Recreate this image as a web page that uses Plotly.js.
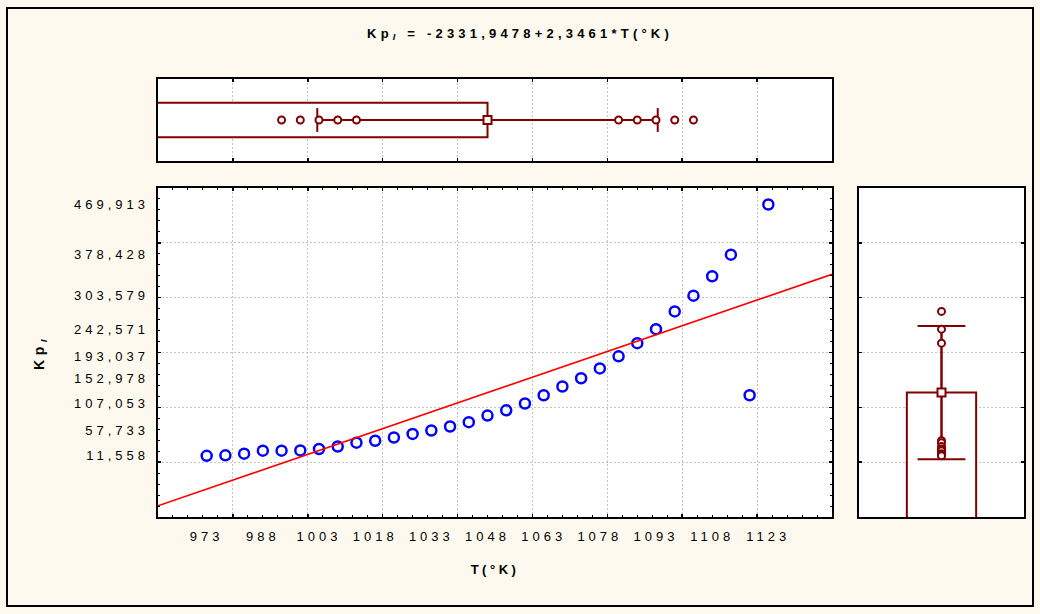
<!DOCTYPE html>
<html>
<head>
<meta charset="utf-8">
<script src="https://cdn.plot.ly/plotly-3.0.1.min.js"></script>
<style>
  html, body { margin: 0; padding: 0; background: #FEF9EE; }
  #chart { width: 1040px; height: 614px; }
  g[class$="tick"] text { letter-spacing: 4px; }
  .gtitle { letter-spacing: 4.2px; }
  .g-x4title text { letter-spacing: 3.5px; }
  .g-y2title text { letter-spacing: 4.5px; }
</style>
</head>
<body>
<div id="chart"></div>
<script>
// ---- data ----
const temperatureK = [973, 978, 983, 988, 993, 998, 1003, 1008, 1013, 1018, 1023, 1028, 1033, 1038, 1043,
  1048, 1053, 1058, 1063, 1068, 1073, 1078, 1083, 1088, 1093, 1098, 1103, 1108, 1113, 1118, 1123];
const kpValues = [11.558, 12.5, 15.5, 21, 21, 21.5, 24, 28.5, 35.5, 39, 45, 51.5, 57.733, 65, 73,
  85, 94.5, 107.053, 122, 138, 152.978, 171, 193.037, 217, 242.571, 275, 303.579, 339, 378.428, 122, 469.913];

const xTickVals = [973, 988, 1003, 1018, 1033, 1048, 1063, 1078, 1093, 1108, 1123];
const xTickText = ["973", "988", "1003", "1018", "1033", "1048", "1063", "1078", "1093", "1108", "1123"];
const yTickVals = [11.558, 57.733, 107.053, 152.978, 193.037, 242.571, 303.579, 378.428, 469.913];
const yTickText = ["11,558", "57,733", "107,053", "152,978", "193,037", "242,571", "303,579", "378,428", "469,913"];

const fitIntercept = -2331.9478;
const fitSlope = 2.3461;

// points drawn on the marginal box plots
const tBoxPoints = [993, 998, 1003, 1008, 1013, 1083, 1088, 1093, 1098, 1103];
const kpBoxPoints = [275, 242.571, 217, 39, 35.5, 28.5, 24, 21.5, 21, 21, 15.5, 12.5, 11.558];

// ---- statistics ----
function mean(a) { return a.reduce((s, v) => s + v, 0) / a.length; }
function sd(a) { const m = mean(a); return Math.sqrt(a.reduce((s, v) => s + (v - m) * (v - m), 0) / (a.length - 1)); }
const tMean = mean(temperatureK), tSd = sd(temperatureK);
const kMean = mean(kpValues), kSd = sd(kpValues);

// ---- style ----
const DARKRED = '#800000';
const FONT = 'Liberation Sans, Arial, sans-serif';
const xRange = [960, 1140];
const yRange = [-100, 500];
const CAP = 0.29, BARW = 0.84;
const kBarBase = yRange[0] - 50;   // bar starts below the visible range (clipped like the reference)

// layout geometry (pixels of the 1040x614 canvas)
const mL = 158, mR = 16, mT = 79, mB = 97;
const W = 1040 - mL - mR, H = 614 - mT - mB;
const fx = px => (px - mL) / W;
const fy = py => (614 - mB - py) / H;

const traces = [
  // main scatter
  { type: 'scatter', mode: 'markers', x: temperatureK, y: kpValues, xaxis: 'x', yaxis: 'y',
    marker: { symbol: 'circle-open', size: 10, color: '#0000FF', line: { width: 2.5, color: '#0000FF' } },
    showlegend: false, hoverinfo: 'x+y' },
  // regression line
  { type: 'scatter', mode: 'lines', x: xRange, y: xRange.map(t => fitIntercept + fitSlope * t), xaxis: 'x', yaxis: 'y',
    line: { color: '#FF0000', width: 1.6 }, showlegend: false },

  // top marginal box (T)
  { type: 'bar', orientation: 'h', x: [tMean], y: [0], width: BARW, xaxis: 'x2', yaxis: 'y3',
    marker: { color: '#FFFFFF', line: { color: DARKRED, width: 2 } }, showlegend: false },
  { type: 'scatter', mode: 'lines', x: [tMean - tSd, tMean + tSd], y: [0, 0], xaxis: 'x2', yaxis: 'y3',
    line: { color: DARKRED, width: 2 }, showlegend: false },
  { type: 'scatter', mode: 'lines', x: [tMean - tSd, tMean - tSd, null, tMean + tSd, tMean + tSd], y: [-CAP, CAP, null, -CAP, CAP],
    xaxis: 'x2', yaxis: 'y3', line: { color: DARKRED, width: 2 }, showlegend: false },
  { type: 'scatter', mode: 'markers', x: tBoxPoints, y: tBoxPoints.map(() => 0), xaxis: 'x2', yaxis: 'y3',
    marker: { symbol: 'circle', size: 7, color: '#FFFFFF', line: { color: DARKRED, width: 2 } }, showlegend: false },
  { type: 'scatter', mode: 'markers', x: [tMean], y: [0], xaxis: 'x2', yaxis: 'y3',
    marker: { symbol: 'square', size: 8, color: '#FFFFFF', line: { color: DARKRED, width: 2 } }, showlegend: false },

  // right marginal box (Kp)
  { type: 'bar', x: [0], y: [kMean - kBarBase], base: kBarBase, width: BARW, xaxis: 'x3', yaxis: 'y4',
    marker: { color: '#FFFFFF', line: { color: DARKRED, width: 2 } }, showlegend: false },
  { type: 'scatter', mode: 'lines', x: [0, 0], y: [kMean - kSd, kMean + kSd], xaxis: 'x3', yaxis: 'y4',
    line: { color: DARKRED, width: 2.5 }, showlegend: false },
  { type: 'scatter', mode: 'lines', x: [-CAP, CAP, null, -CAP, CAP], y: [kMean - kSd, kMean - kSd, null, kMean + kSd, kMean + kSd],
    xaxis: 'x3', yaxis: 'y4', line: { color: DARKRED, width: 2 }, showlegend: false },
  { type: 'scatter', mode: 'markers', x: kpBoxPoints.map(() => 0), y: kpBoxPoints, xaxis: 'x3', yaxis: 'y4',
    marker: { symbol: 'circle', size: 7, color: '#FFFFFF', line: { color: DARKRED, width: 2 } }, showlegend: false },
  { type: 'scatter', mode: 'markers', x: [0], y: [kMean], xaxis: 'x3', yaxis: 'y4',
    marker: { symbol: 'square', size: 8, color: '#FFFFFF', line: { color: DARKRED, width: 2 } }, showlegend: false },

  // label-only overlay axes
  { type: 'scatter', mode: 'markers', x: [], y: [], xaxis: 'x4', yaxis: 'y', showlegend: false },
  { type: 'scatter', mode: 'markers', x: [], y: [], xaxis: 'x', yaxis: 'y2', showlegend: false }
];

const gridCommon = { showgrid: true, gridcolor: '#C4C4C4', gridwidth: 1, griddash: '2px,2px', zeroline: false,
  showline: true, linecolor: '#000000', linewidth: 2, mirror: 'ticks', ticks: 'inside', ticklen: 3, tickcolor: '#000000',
  tickwidth: 1.5, showticklabels: false, fixedrange: true };

const mainX = [fx(158), fx(832)], mainY = [fy(517), fy(188)];
const topY = [fy(161), fy(79)], rightX = [fx(859), fx(1024)];

const layout = {
  width: 1040, height: 614,
  margin: { l: mL, r: mR, t: mT, b: mB, pad: 0 },
  paper_bgcolor: '#FEF9EE', plot_bgcolor: '#FFFFFF',
  font: { family: FONT, size: 13, color: '#000000' },
  title: { text: '<b>Kp<sub><i>I</i></sub> = -2331,9478+2,3461*T(°K)</b>', x: 0.5, xref: 'container', xanchor: 'center',
    y: 1 - 33 / 614, yref: 'container', yanchor: 'middle', font: { family: FONT, size: 13, color: '#000000' } },
  showlegend: false,
  bargap: 0,
  xaxis: Object.assign({}, gridCommon, { domain: mainX, anchor: 'y', range: xRange, tick0: 960, dtick: 20,
    minor: { dtick: 4, tick0: 960, ticks: 'inside', ticklen: 2, tickcolor: '#000000', tickwidth: 1, showgrid: false } }),
  yaxis: Object.assign({}, gridCommon, { domain: mainY, anchor: 'x', range: yRange, tick0: 0, dtick: 100,
    minor: { dtick: 20, tick0: 0, ticks: 'inside', ticklen: 2, tickcolor: '#000000', tickwidth: 1, showgrid: false } }),
  xaxis4: { overlaying: 'x', anchor: 'y', side: 'bottom', range: xRange, tickmode: 'array', tickvals: xTickVals, ticktext: xTickText,
    showgrid: false, zeroline: false, showline: false, ticks: '', ticklabelstandoff: 10, fixedrange: true,
    tickfont: { family: FONT, size: 13, color: '#000000' },
    title: { text: '<b>T(°K)</b>', standoff: 21, font: { family: FONT, size: 13, color: '#000000' } } },
  yaxis2: { overlaying: 'y', anchor: 'x', side: 'left', range: yRange, tickmode: 'array', tickvals: yTickVals, ticktext: yTickText,
    showgrid: false, zeroline: false, showline: false, ticks: '', ticklabelstandoff: 8, fixedrange: true,
    tickfont: { family: FONT, size: 13, color: '#000000' },
    title: { text: '<b>Kp<sub><i>I</i></sub></b>', standoff: 26, font: { family: FONT, size: 14, color: '#000000' } } },
  xaxis2: Object.assign({}, gridCommon, { domain: mainX, anchor: 'y3', range: xRange, tick0: 960, dtick: 20 }),
  yaxis3: { domain: topY, anchor: 'x2', range: [-1, 1], showgrid: false, zeroline: false, showline: true, mirror: true,
    linecolor: '#000000', linewidth: 2, ticks: '', showticklabels: false, fixedrange: true },
  xaxis3: { domain: rightX, anchor: 'y4', range: [-1, 1], showgrid: false, zeroline: false, showline: true, mirror: true,
    linecolor: '#000000', linewidth: 2, ticks: '', showticklabels: false, fixedrange: true },
  yaxis4: Object.assign({}, gridCommon, { domain: mainY, anchor: 'x3', range: yRange, tick0: 0, dtick: 100 }),
  shapes: [
    { type: 'rect', xref: 'paper', yref: 'paper', x0: fx(7), x1: fx(1033), y0: fy(606), y1: fy(8),
      line: { color: '#000000', width: 2 }, fillcolor: 'rgba(0,0,0,0)', layer: 'below' }
  ]
};

Plotly.newPlot('chart', traces, layout, { staticPlot: true, displayModeBar: false }).then(gd => {
  // drop empty placeholder text nodes Plotly leaves behind
  gd.querySelectorAll('text').forEach(t => { if (!t.textContent.trim()) t.remove(); });
});
</script>
</body>
</html>
